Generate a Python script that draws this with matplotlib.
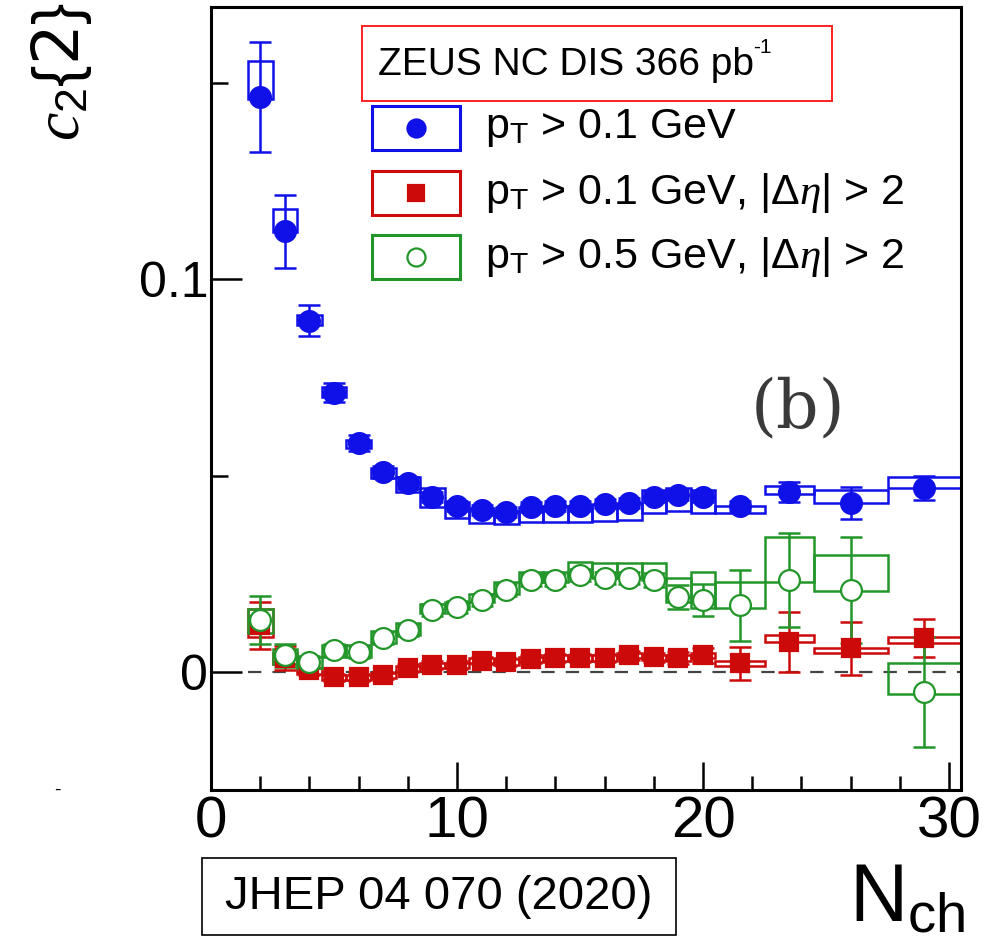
import matplotlib
matplotlib.use('Agg')
import matplotlib.pyplot as plt
from matplotlib.patches import Rectangle
import numpy as np

# bin centres and bin edges
nch = [2, 3, 4, 5, 6, 7, 8, 9, 10, 11, 12, 13, 14, 15, 16, 17, 18, 19, 20, 21.5, 23.5, 26, 29]
bin_lo = [1.5, 2.5, 3.5, 4.5, 5.5, 6.5, 7.5, 8.5, 9.5, 10.5, 11.5, 12.5, 13.5, 14.5, 15.5, 16.5,
          17.5, 18.5, 19.5, 20.5, 22.5, 24.5, 27.5]
bin_hi = [2.5, 3.5, 4.5, 5.5, 6.5, 7.5, 8.5, 9.5, 10.5, 11.5, 12.5, 13.5, 14.5, 15.5, 16.5, 17.5,
          18.5, 19.5, 20.5, 22.5, 24.5, 27.5, 30.5]

# pT > 0.1 GeV
blue_val = [0.1464, 0.1122, 0.0895, 0.0712, 0.0584, 0.0510, 0.0482, 0.0447, 0.0423, 0.0413, 0.0408,
            0.0421, 0.0423, 0.0423, 0.0429, 0.0431, 0.0447, 0.0452, 0.0447, 0.0423, 0.0459, 0.0431, 0.0469]
blue_stat = [0.014, 0.0092, 0.004, 0.0025, 0.002, 0.0016, 0.0015, 0.0013, 0.0012, 0.0012, 0.0012,
             0.0012, 0.0012, 0.0012, 0.0012, 0.0012, 0.0013, 0.0013, 0.0013, 0.0013, 0.0025, 0.004, 0.003]
blue_sys_lo = [0.146, 0.112, 0.0885, 0.0700, 0.0570, 0.0495, 0.0459, 0.0420, 0.0393, 0.0380, 0.0378,
               0.0383, 0.0383, 0.0383, 0.0385, 0.0388, 0.0406, 0.0410, 0.0406, 0.0406, 0.0454, 0.0431, 0.0469]
blue_sys_hi = [0.1556, 0.118, 0.0910, 0.0725, 0.0590, 0.0520, 0.0497, 0.0470, 0.0434, 0.0418, 0.0410,
               0.0421, 0.0423, 0.0423, 0.0429, 0.0431, 0.0464, 0.0470, 0.0464, 0.0423, 0.0474, 0.0464, 0.0497]

# pT > 0.1 GeV, |deta| > 2
red_val = [0.0120, 0.0036, 0.0005, -0.0013, -0.0013, -0.0008, 0.0010, 0.0018, 0.0018, 0.0030, 0.0026,
           0.0033, 0.0036, 0.0036, 0.0036, 0.0043, 0.0038, 0.0036, 0.0043, 0.0023, 0.0077, 0.0061, 0.0087]
red_stat = [0.006, 0.003, 0.0012, 0.001, 0.001, 0.001, 0.001, 0.001, 0.001, 0.001, 0.001,
            0.001, 0.001, 0.001, 0.001, 0.0012, 0.0012, 0.0015, 0.002, 0.0042, 0.0077, 0.0068, 0.0048]
red_sys_lo = [0.0090, 0.0020, -0.0005, -0.0020, -0.0020, -0.0015, 0.0003, 0.0011, 0.0011, 0.0023, 0.0019,
              0.0026, 0.0029, 0.0029, 0.0029, 0.0036, 0.0031, 0.0029, 0.0036, 0.0016, 0.0077, 0.0049, 0.0074]
red_sys_hi = [0.0160, 0.0050, 0.0012, -0.0006, -0.0006, -0.0001, 0.0017, 0.0025, 0.0025, 0.0037, 0.0033,
              0.0040, 0.0043, 0.0043, 0.0043, 0.0050, 0.0045, 0.0043, 0.0050, 0.0030, 0.0094, 0.0061, 0.0089]

# pT > 0.5 GeV, |deta| > 2
green_val = [0.0133, 0.0043, 0.0026, 0.0056, 0.0051, 0.0087, 0.0107, 0.0158, 0.0166, 0.0184, 0.0209,
             0.0235, 0.0235, 0.0247, 0.0240, 0.0240, 0.0235, 0.0191, 0.0184, 0.0171, 0.0235, 0.0209, -0.0051]
green_stat = [0.006, 0.003, 0.0015, 0.0015, 0.0015, 0.0015, 0.0015, 0.0015, 0.0015, 0.0015, 0.0015,
              0.0015, 0.0015, 0.0015, 0.0015, 0.0015, 0.0018, 0.003, 0.004, 0.009, 0.012, 0.0135, 0.014]
green_sys_lo = [0.0100, 0.0020, 0.0010, 0.0040, 0.0040, 0.0075, 0.0095, 0.0150, 0.0160, 0.0180, 0.0200,
                0.0230, 0.0230, 0.0245, 0.0240, 0.0240, 0.0235, 0.0180, 0.0163, 0.0163, 0.0230, 0.0207, -0.0054]
green_sys_hi = [0.0160, 0.0060, 0.0040, 0.0070, 0.0070, 0.0105, 0.0125, 0.0175, 0.0180, 0.0200, 0.0230,
                0.0255, 0.0255, 0.0280, 0.0278, 0.0278, 0.0278, 0.0240, 0.0255, 0.0230, 0.0344, 0.0298, 0.0023]

legend_labels = [r'p$_{\rm T}$ > 0.1 GeV',
                 r'p$_{\rm T}$ > 0.1 GeV, |$\Delta\eta$| > 2',
                 r'p$_{\rm T}$ > 0.5 GeV, |$\Delta\eta$| > 2']

BLUE = '#1010e8'
RED = '#cc0a0a'
GREEN = '#23962a'

plt.rcParams['font.family'] = ['Liberation Sans', 'DejaVu Sans']
plt.rcParams['mathtext.fontset'] = 'custom'
plt.rcParams['mathtext.rm'] = 'Liberation Sans'
plt.rcParams['mathtext.it'] = 'Liberation Serif:italic'

fig = plt.figure(figsize=(9.86, 9.43), dpi=100)
ax = fig.add_axes([0.214, 0.162, 0.761, 0.831])


def draw_series(val, stat, sys_lo, sys_hi, color, marker, filled, ms):
    for lo, hi, s0, s1 in zip(bin_lo, bin_hi, sys_lo, sys_hi):
        ax.add_patch(Rectangle((lo, s0), hi - lo, s1 - s0, fill=False, edgecolor=color, lw=1.8, zorder=2))
    ax.errorbar(nch, val, yerr=stat, fmt='none', ecolor=color, elinewidth=1.8, capsize=8, capthick=1.8, zorder=3)
    ax.plot(nch, val, linestyle='none', marker=marker, markersize=ms,
            markerfacecolor=color if filled else 'white', markeredgecolor=color, markeredgewidth=1.6, zorder=4)


ax.axhline(0, xmin=1.5 / 30.5, xmax=1.0, color='#444444', lw=1.6, dashes=(6, 5), zorder=1)
draw_series(blue_val, blue_stat, blue_sys_lo, blue_sys_hi, BLUE, 'o', True, 15)
draw_series(red_val, red_stat, red_sys_lo, red_sys_hi, RED, 's', True, 13.5)
draw_series(green_val, green_stat, green_sys_lo, green_sys_hi, GREEN, 'o', False, 15)

ax.set_xlim(0, 30.5)
ax.set_ylim(-0.0300, 0.1694)
ax.set_xticks([0, 10, 20, 30])
ax.set_xticks([2, 4, 6, 8, 12, 14, 16, 18, 22, 24, 26, 28], minor=True)
ax.set_yticks([0, 0.1])
ax.set_yticklabels(['0', '0.1'])
ax.set_yticks([0.05, 0.15], minor=True)
ax.tick_params(axis='both', which='both', direction='in', top=False, right=False, width=1.8)
ax.tick_params(axis='x', which='major', length=20, labelsize=42, pad=4)
ax.tick_params(axis='x', which='minor', length=10)
ax.tick_params(axis='y', which='major', length=22, labelsize=36, pad=2)
ax.tick_params(axis='y', which='minor', length=12)
for sp in ax.spines.values():
    sp.set_linewidth(2.2)

# axis titles
fig.text(0.062, 0.998, r'$c_{\rm 2}$$\{$2$\}$', rotation=90, ha='center', va='top', fontsize=46,
         family=['DejaVu Sans'])
fig.text(0.92, 0.005, r'N$_{\rm ch}$', ha='center', va='bottom', fontsize=58)
ax.text(0.782, 0.487, '(b)', transform=ax.transAxes, ha='center', va='center', fontsize=48,
        family=['DejaVu Serif'], color='#3a3a3a')

# header box
ax.add_patch(Rectangle((0.201, 0.879), 0.626, 0.096, transform=ax.transAxes, fill=False,
                       edgecolor='#ff2020', lw=1.4, zorder=5))
ax.text(0.222, 0.925, 'ZEUS NC DIS 366 pb', transform=ax.transAxes, ha='left', va='center',
        fontsize=28, zorder=6)
ax.text(0.723, 0.948, '-1', transform=ax.transAxes, ha='left', va='center', fontsize=15, zorder=6)

# legend, drawn by hand to match the boxed markers
leg_y = [0.845, 0.762, 0.680]
leg_style = [(BLUE, 'o', True, 13), (RED, 's', True, 12), (GREEN, 'o', False, 13)]
for yy, (col, mk, filled, ms), lab in zip(leg_y, leg_style, legend_labels):
    ax.add_patch(Rectangle((0.215, yy - 0.028), 0.117, 0.056, transform=ax.transAxes, fill=False,
                           edgecolor=col, lw=2.2, zorder=5))
    ax.plot([0.2735], [yy], transform=ax.transAxes, marker=mk, markersize=ms, linestyle='none',
            markerfacecolor=col if filled else 'white', markeredgecolor=col, markeredgewidth=1.6, zorder=6)
    ax.text(0.365, yy, lab, transform=ax.transAxes, ha='left', va='center', fontsize=31, zorder=6)

# reference box
fig.patches.append(Rectangle((202 / 986, 1 - 935 / 943), 474 / 986, 77 / 943, transform=fig.transFigure,
                             fill=False, edgecolor='black', lw=1.2))
fig.text(439 / 986, 1 - 897 / 943, 'JHEP 04 070 (2020)', ha='center', va='center', fontsize=34)

fig.text(0.058, 0.162, '-', ha='center', va='center', fontsize=14)

fig.savefig('out.png', dpi=100)
